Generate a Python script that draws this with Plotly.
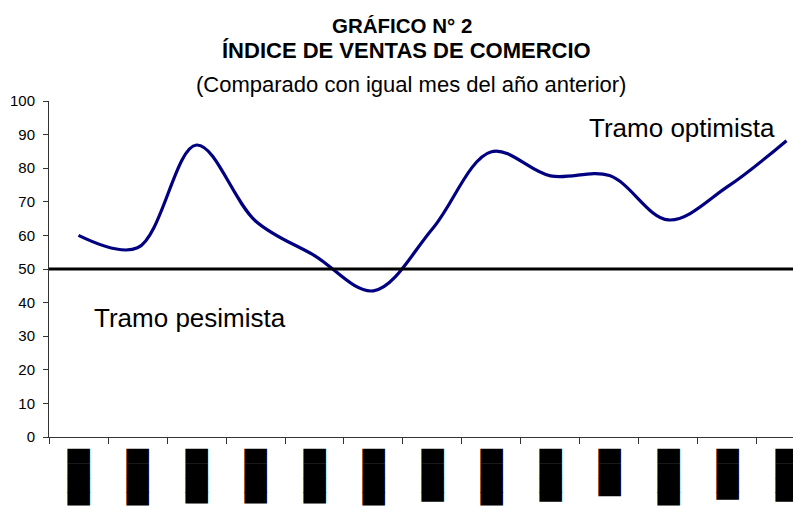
import plotly.graph_objects as go

# ---- data ----
periods = ["P01", "P02", "P03", "P04", "P05", "P06", "P07",
           "P08", "P09", "P10", "P11", "P12", "P13"]
index_values = [60.0, 56.3, 86.9, 64.3, 54.0, 43.5, 62.0,
                84.9, 77.7, 77.8, 64.6, 74.5, 88.2]
# x tick labels appear as solid black blocks in the reference
tick_labels = ["███▉", "███▉", "███▊", "███▊", "███▊", "███▉", "███▋",
               "███▉", "███▋", "███▎", "███▉", "███▌", "███▋"]
y_ticks = [0, 10, 20, 30, 40, 50, 60, 70, 80, 90, 100]
threshold = 50

title_lines = ["GRÁFICO N° 2", "ÍNDICE DE VENTAS DE COMERCIO",
               "(Comparado con igual mes del año anterior)"]
label_opt = "Tramo optimista"
label_pes = "Tramo pesimista"

FONT = "Liberation Sans, Arial, sans-serif"

fig = go.Figure()
fig.add_trace(go.Scatter(
    x=periods, y=index_values, mode="lines",
    line=dict(color="#000080", width=3.2, shape="spline", smoothing=1.0),
    hoverinfo="skip", showlegend=False,
))

fig.add_shape(type="line", xref="paper", x0=0, x1=1, yref="y",
              y0=threshold, y1=threshold,
              line=dict(color="black", width=3.2), layer="above")

# the page adds an 8px body margin, so the figure origin sits at (8, 8)
fig.update_layout(
    width=801, height=506,
    margin=dict(l=41, r=8, t=93, b=77, autoexpand=False),
    paper_bgcolor="white", plot_bgcolor="white",
    font=dict(family=FONT, color="black"),
    showlegend=False,
    xaxis=dict(
        type="category", automargin=False,
        range=[-0.5, 12.246],
        tickmode="array", tickvals=periods, ticktext=tick_labels,
        tickson="boundaries",
        ticks="outside", ticklen=6, tickcolor="#333",
        showline=True, linecolor="#333", linewidth=1,
        showgrid=False, zeroline=False,
        tickangle=90,
        tickfont=dict(family="DejaVu Sans", size=19, color="black"),
        ticklabelstandoff=7,
    ),
    yaxis=dict(
        automargin=False,
        range=[0, 100], tickmode="array", tickvals=y_ticks,
        ticks="outside", ticklen=5, tickcolor="#333",
        showline=True, linecolor="#333", linewidth=1,
        showgrid=False, zeroline=False,
        tickfont=dict(family=FONT, size=15, color="black"),
        ticklabelstandoff=5,
    ),
)

fig.add_annotation(text="<b>" + title_lines[0] + "</b>", xref="paper", yref="paper",
                   x=0.470, y=1.226, xanchor="center", yanchor="middle",
                   showarrow=False, font=dict(family=FONT, size=20.5, color="black"))
fig.add_annotation(text="<b>" + title_lines[1] + "</b>", xref="paper", yref="paper",
                   x=0.475, y=1.150, xanchor="center", yanchor="middle",
                   showarrow=False, font=dict(family=FONT, size=22, color="black"))
fig.add_annotation(text=title_lines[2], xref="paper", yref="paper",
                   x=0.482, y=1.048, xanchor="center", yanchor="middle",
                   showarrow=False, font=dict(family=FONT, size=22, color="black"))

fig.add_annotation(text=label_opt, xref="paper", yref="y",
                   x=0.716, y=92.0, xanchor="left", yanchor="middle",
                   showarrow=False, font=dict(family=FONT, size=26, color="black"))
fig.add_annotation(text=label_pes, xref="paper", yref="y",
                   x=0.057, y=35.4, xanchor="left", yanchor="middle",
                   showarrow=False, font=dict(family=FONT, size=26, color="black"))

fig.write_html("out.html")
